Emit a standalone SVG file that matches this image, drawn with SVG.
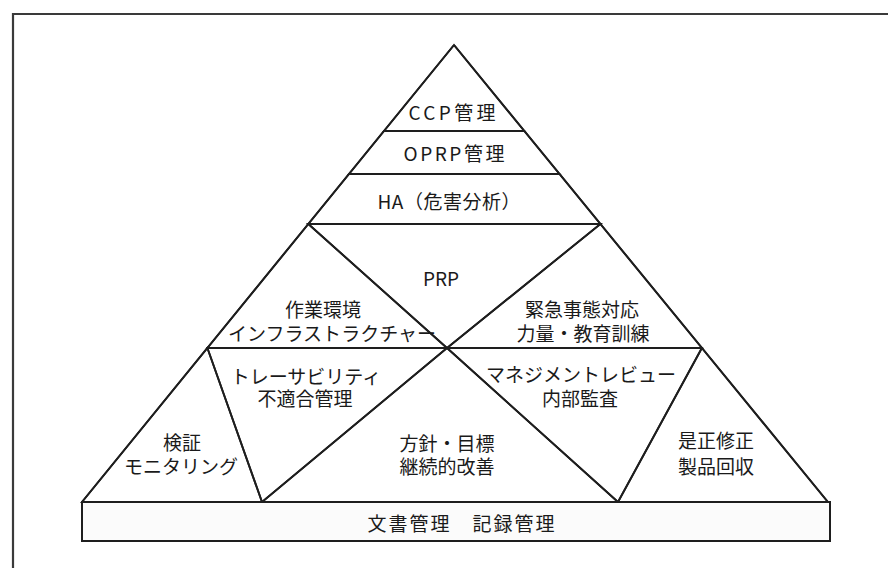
<svg xmlns="http://www.w3.org/2000/svg" width="888" height="568" viewBox="0 0 888 568">
<style>
.bg{fill:#ffffff}
.frame{fill:none;stroke:#3a3a3a;stroke-width:2.2}
.reg{fill:none;stroke:#1e1e1e;stroke-width:1.9;stroke-linejoin:miter}
.base{fill:#fbfbfb;stroke:#1e1e1e;stroke-width:2}
.t{font-family:"Noto Sans CJK JP","Noto Sans",sans-serif;font-size:19px;fill:#1a1a1a;text-anchor:middle}
</style>
<rect class="bg" x="0" y="0" width="888" height="568"/>
<g id="frame">
<path class="frame" d="M13,568 L13,14 L888,14"/>
</g>
<g id="connectors">
<path class="reg" d="M454,45 L82,502 M454,45 L828,502"/>
</g>
<g id="ccp">
<polygon class="reg" points="454,45 384,131 524.3,131"/>
<text class="t" x="452" y="120" textLength="87">CCP管理</text>
</g>
<g id="oprp">
<polygon class="reg" points="384,131 524.3,131 559.5,174 349,174"/>
<text class="t" x="454" y="161" textLength="101">OPRP管理</text>
</g>
<g id="ha">
<polygon class="reg" points="349,174 559.5,174 600.4,224 308.3,224"/>
<text class="t" x="449" y="209" textLength="143">HA（危害分析）</text>
</g>
<g id="prp">
<polygon class="reg" points="308.3,224 600.4,224 447,348"/>
<text class="t" x="441" y="286" font-size="20">PRP</text>
</g>
<g id="work-env">
<polygon class="reg" points="308.3,224 447,348 207.4,348"/>
<text class="t" x="323" y="317">作業環境</text>
<text class="t" x="332" y="341" textLength="208">インフラストラクチャー</text>
</g>
<g id="emergency">
<polygon class="reg" points="600.4,224 701.9,348 447,348"/>
<text class="t" x="582" y="317">緊急事態対応</text>
<text class="t" x="583" y="341">力量・教育訓練</text>
</g>
<g id="verification">
<polygon class="reg" points="207.4,348 262,502 82,502"/>
<text class="t" x="182" y="450">検証</text>
<text class="t" x="181" y="474">モニタリング</text>
</g>
<g id="traceability">
<polygon class="reg" points="207.4,348 447,348 262,502"/>
<text class="t" x="306" y="384">トレーサビリティ</text>
<text class="t" x="305" y="406">不適合管理</text>
</g>
<g id="policy">
<polygon class="reg" points="447,348 618,502 262,502"/>
<text class="t" x="447" y="451">方針・目標</text>
<text class="t" x="447" y="474">継続的改善</text>
</g>
<g id="management-review">
<polygon class="reg" points="447,348 701.9,348 618,502"/>
<text class="t" x="581" y="382">マネジメントレビュー</text>
<text class="t" x="580" y="406">内部監査</text>
</g>
<g id="correction">
<polygon class="reg" points="701.9,348 827.8,502 618,502"/>
<text class="t" x="716" y="448">是正修正</text>
<text class="t" x="716" y="474">製品回収</text>
</g>
<g id="documents">
<rect class="base" x="82" y="502" width="748" height="39"/>
<text class="t" x="461" y="531" textLength="187">文書管理　記録管理</text>
</g>
</svg>
